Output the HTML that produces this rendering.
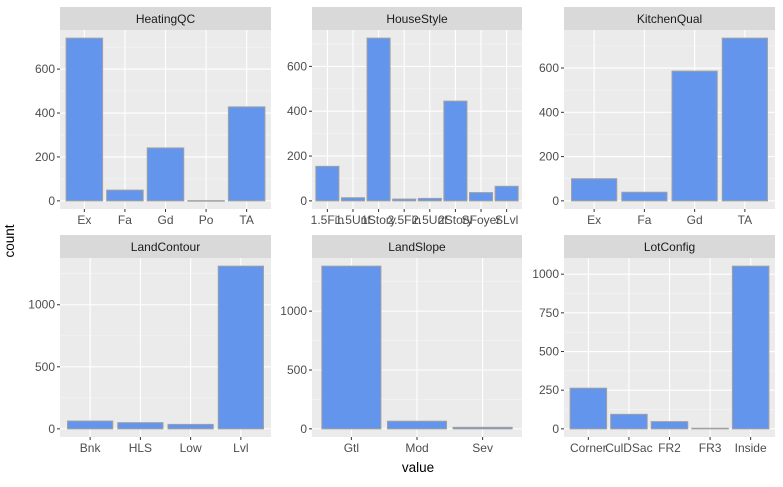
<!DOCTYPE html>
<html><head><meta charset="utf-8"><style>
body{margin:0;background:#fff;}
svg text{font-family:"Liberation Sans",Arial,sans-serif;}
</style></head><body>
<svg id="c" width="783" height="482" xmlns="http://www.w3.org/2000/svg"></svg>
<script>
const facetTitles=["HeatingQC","HouseStyle","KitchenQual","LandContour","LandSlope","LotConfig"];
const catsHeating=["Ex","Fa","Gd","Po","TA"];
const valsHeating=[741,49,241,1,428];
const catsHouse=["1.5Fin","1.5Unf","1Story","2.5Fin","2.5Unf","2Story","SFoyer","SLvl"];
const valsHouse=[154,14,726,8,11,445,37,65];
const catsKitchen=["Ex","Fa","Gd","TA"];
const valsKitchen=[100,39,586,735];
const catsContour=["Bnk","HLS","Low","Lvl"];
const valsContour=[63,50,36,1311];
const catsSlope=["Gtl","Mod","Sev"];
const valsSlope=[1382,65,13];
const catsLot=["Corner","CulDSac","FR2","FR3","Inside"];
const valsLot=[263,94,47,4,1052];
const ticksHeating=[0,200,400,600];
const ticksHouse=[0,200,400,600];
const ticksKitchen=[0,200,400,600];
const ticksContour=[0,500,1000];
const ticksSlope=[0,500,1000];
const ticksLot=[0,250,500,750,1000];

const svg=document.getElementById('c');
const NS="http://www.w3.org/2000/svg";
function mk(tag,attrs,parent){const e=document.createElementNS(NS,tag);for(const k in attrs)e.setAttribute(k,attrs[k]);(parent||svg).appendChild(e);return e;}
const facets=[[catsHeating,valsHeating,ticksHeating],[catsHouse,valsHouse,ticksHouse],[catsKitchen,valsKitchen,ticksKitchen],[catsContour,valsContour,ticksContour],[catsSlope,valsSlope,ticksSlope],[catsLot,valsLot,ticksLot]];
const colX=[[60,271],[312,522],[564,775]];
const rowY=[[7,30,209],[235,258,437]];
facets.forEach((f,i)=>{
  const [cats,vals,ticks]=f;
  const [x0,x1]=colX[i%3];const [sy,y0,y1]=rowY[Math.floor(i/3)];
  const g=mk('g',{},svg);
  
  
  const strip=mk('rect',{x:x0,y:sy,width:x1-x0,height:y0-sy,fill:'#d9d9d9'},g);
  
  
  const st=mk('text',{x:(x0+x1)/2,y:sy+16,'text-anchor':'middle','font-size':'12',fill:'#1a1a1a'},g);st.textContent=facetTitles[i];
  
  
  const bg=mk('rect',{x:x0,y:y0,width:x1-x0,height:y1-y0,fill:'#ebebeb'},g);
  
  
  const maxV=Math.max(...vals);const lo=-0.05*maxV,hi=1.05*maxV;
  const y=v=>y1-(v-lo)/(hi-lo)*(y1-y0);
  const n=cats.length;const band=(x1-x0)/(n+0.2);
  const x=k=>x0+band*(0.6+k);
  const step=ticks[1]-ticks[0];
  for(let t=ticks[0]-step/2;t<=hi;t+=step){const yy=y(t);if(yy>=y0&&yy<=y1)mk('line',{x1:x0,x2:x1,y1:yy,y2:yy,stroke:'#f5f5f5','stroke-width':0.6},g);}
  ticks.forEach(t=>{const yy=y(t);mk('line',{x1:x0,x2:x1,y1:yy,y2:yy,stroke:'#fff','stroke-width':1.1},g);
    mk('line',{x1:x0-3,x2:x0,y1:yy,y2:yy,stroke:'#333','stroke-width':1},g);
    const tl=mk('text',{x:x0-5,y:yy+4,'text-anchor':'end','font-size':'12',fill:'#4d4d4d'},g);tl.textContent=t;
    
    });
  cats.forEach((c,k)=>{const xx=x(k);mk('line',{x1:xx,x2:xx,y1:y0,y2:y1,stroke:'#fff','stroke-width':1.1},g);
    mk('line',{x1:xx,x2:xx,y1:y1,y2:y1+3,stroke:'#333','stroke-width':1},g);
    const xl=mk('text',{x:xx,y:y1+15,'text-anchor':'middle','font-size':'12',fill:'#4d4d4d'},g);xl.textContent=c;
    
    });
  vals.forEach((v,k)=>{const w=band*0.9;const b=mk('rect',{x:x(k)-w/2,y:y(v),width:w,height:Math.max(0.5,y(0)-y(v)),fill:'#6495ed',stroke:'#a0a0a0','stroke-width':1},g);
    
    });
});
const yt=mk('text',{x:0,y:0,transform:'translate(14,241) rotate(-90)','text-anchor':'middle','font-size':'13.5',fill:'#000'});yt.textContent='count';


const xt=mk('text',{x:418,y:472,'text-anchor':'middle','font-size':'13.5',fill:'#000'});xt.textContent='value';


</script>
</body></html>
